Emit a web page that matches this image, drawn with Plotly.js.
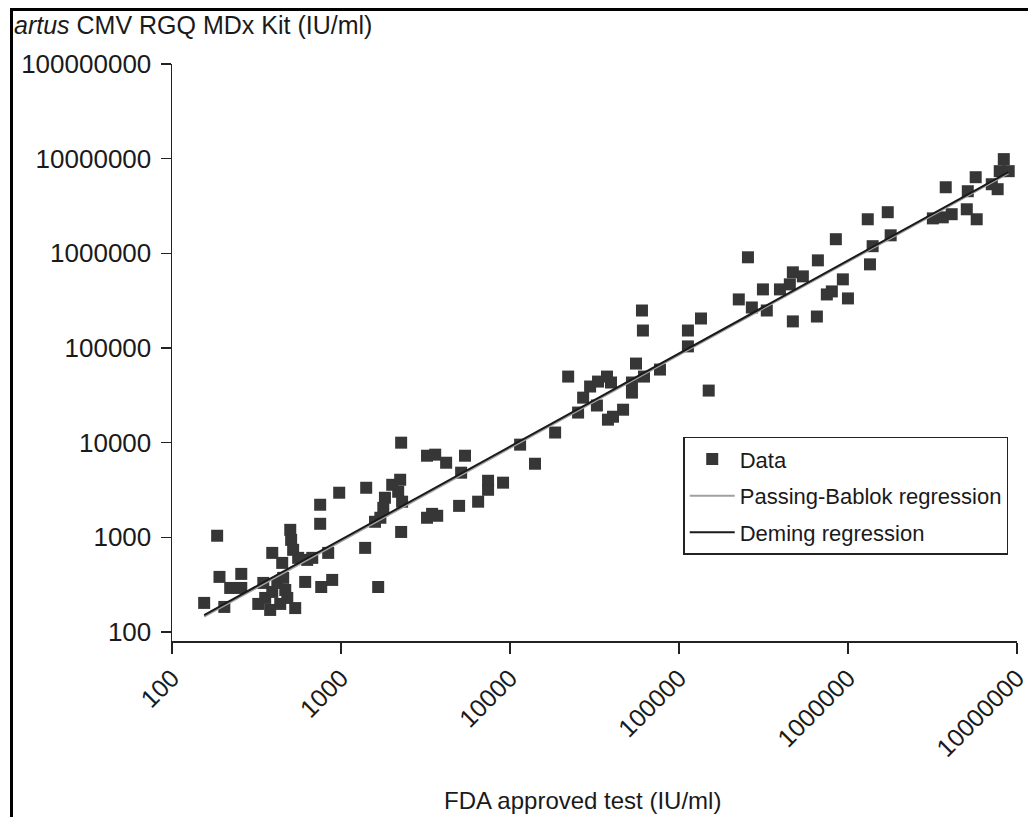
<!DOCTYPE html>
<html>
<head>
<meta charset="utf-8">
<script src="https://cdn.plot.ly/plotly-3.0.1.min.js"></script>
<style>
  html, body { margin: 0; padding: 0; background: #fff; }
  #wrap { position: relative; width: 1028px; height: 817px; }
  #chart { position: absolute; left: 0; top: 0; width: 1028px; height: 817px; }
  #frame { position: absolute; left: 10px; top: 8px; width: 1030px; height: 820px;
           border-top: 3px solid #000; border-left: 3px solid #000; pointer-events: none; }
</style>
</head>
<body>
<div id="wrap">
  <div id="chart"></div>
  <div id="frame"></div>
</div>
<script>
// FDA approved test (IU/ml)
const fdaValues = [
  155,185,191,204,221,257,257,347,356,392,381,420,455,437,481,536,614,392,449,501,507,521,558,631,676,764,887,840,753,753,976,324,468,
  1410,1390,1660,2010,2240,2180,2300,1820,1780,1710,1590,2270,2270,3230,3610,4190,5420,5140,7420,7420,9100,6480,5000,3230,3460,3710,
  11480,14060,18500,22100,25300,27100,29800,32700,33200,37500,39600,38000,40700,46700,52700,52700,55700,62100,77200,60400,61200,113000,113000,135000,150000,
  256000,226000,270000,314000,331000,396000,453000,472000,541000,472000,655000,664000,750000,803000,933000,1000000,848000,1350000,1400000,1310000,1720000,1790000,3180000,3640000,4110000,3790000,5050000,5780000,5120000,5700000,7100000,7690000,7910000,8360000,8940000
];
// artus CMV RGQ MDx Kit (IU/ml)
const artusValues = [
  203,1040,382,184,292,411,292,330,229,265,171,330,373,198,229,179,338,685,537,1200,941,738,607,578,607,299,355,685,2210,1390,2960,198,278,
  3340,774,299,3590,4060,3030,2380,2620,2050,1610,1460,1140,10000,7280,7470,6140,7280,4820,3960,3180,3780,2380,2150,1610,1770,1690,
  9530,5990,12800,49900,20800,29900,39200,24700,44200,49900,43200,17500,18800,22300,43200,33800,68500,49900,59200,249000,153000,153000,104000,205000,35500,
  908000,326000,268000,416000,249000,416000,470000,630000,571000,191000,215000,843000,368000,396000,531000,334000,1410000,765000,1190000,2290000,2720000,1550000,2340000,2400000,2590000,4990000,2920000,2290000,4530000,6370000,5370000,4760000,7380000,9890000,7380000
];
// regression line end points
const pbX = [155, 8900000];
const pbY = [145, 7000000];
const demingX = [155, 8900000];
const demingY = [151, 7200000];

const xTickVals = [100, 1000, 10000, 100000, 1000000, 10000000];
const xTickText = ['100', '1000', '10000', '100000', '1000000', '10000000'];
const yTickVals = [100, 1000, 10000, 100000, 1000000, 10000000, 100000000];
const yTickText = ['100', '1000', '10000', '100000', '1000000', '10000000', '100000000'];

const FONT = 'Liberation Sans, Arial, sans-serif';

const traces = [
  {
    type: 'scatter', mode: 'markers', name: 'Data', legendgroup: 'a',
    x: fdaValues, y: artusValues,
    marker: { symbol: 'square', size: 12, color: '#363636', line: { width: 0 } }
  },
  {
    type: 'scatter', mode: 'lines', name: 'Passing-Bablok regression', legendgroup: 'b',
    x: pbX, y: pbY,
    line: { color: '#a0a0a0', width: 2 }
  },
  {
    type: 'scatter', mode: 'lines', name: 'Deming regression', legendgroup: 'c',
    x: demingX, y: demingY,
    line: { color: '#1a1a1a', width: 2 }
  }
];

const layout = {
  width: 1028, height: 817,
  margin: { l: 172, r: 11, t: 64, b: 176, pad: 0 },
  paper_bgcolor: '#ffffff', plot_bgcolor: '#ffffff',
  font: { family: FONT, color: '#1a1a1a', size: 22 },
  showlegend: true,
  legend: {
    x: 0.605, y: 0.354, xanchor: 'left', yanchor: 'top',
    bordercolor: '#222', borderwidth: 1.5, bgcolor: '#ffffff',
    font: { family: FONT, size: 22, color: '#1a1a1a' },
    tracegroupgap: 5, itemwidth: 45
  },
  xaxis: {
    type: 'log', range: [2, 7.0004],
    tickvals: xTickVals, ticktext: xTickText,
    tickangle: -45, ticklabeloverflow: 'allow',
    showgrid: false, zeroline: false,
    showline: true, linecolor: '#222', linewidth: 1.5,
    ticks: 'outside', ticklen: 11, tickwidth: 1.5, tickcolor: '#222',
    tickfont: { family: FONT, size: 25, color: '#1a1a1a' }
  },
  yaxis: {
    type: 'log', range: [1.905, 8],
    tickvals: yTickVals, ticktext: yTickText,
    showgrid: false, zeroline: false,
    showline: true, linecolor: '#222', linewidth: 1.5,
    ticks: 'outside', ticklen: 10, tickwidth: 1.5, tickcolor: '#222',
    ticklabelstandoff: 4,
    tickfont: { family: FONT, size: 26, color: '#1a1a1a' }
  },
  annotations: [
    {
      text: '<i>artus</i> CMV RGQ MDx Kit (IU/ml)',
      xref: 'paper', yref: 'paper', x: -0.1895, y: 1.0675,
      xanchor: 'left', yanchor: 'middle', showarrow: false,
      font: { family: FONT, size: 25, color: '#1a1a1a' }
    },
    {
      text: 'FDA approved test (IU/ml)',
      xref: 'paper', yref: 'paper', x: 0.486, y: -0.2756,
      xanchor: 'center', yanchor: 'middle', showarrow: false,
      font: { family: FONT, size: 24, color: '#1a1a1a' }
    }
  ]
};

Plotly.newPlot('chart', traces, layout, { displayModeBar: false, staticPlot: true });
</script>
</body>
</html>
